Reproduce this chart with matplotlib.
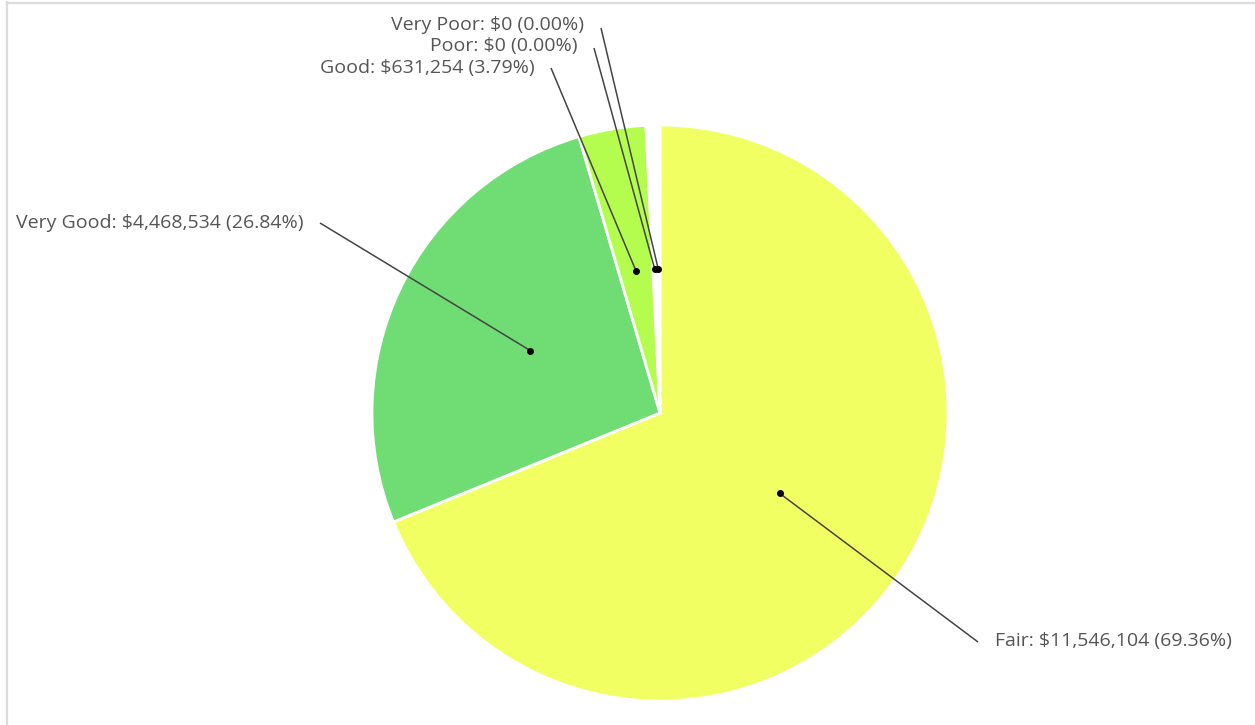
import matplotlib
matplotlib.use("Agg")
import matplotlib.pyplot as plt
from matplotlib.lines import Line2D
import numpy as np

# Condition categories in drawing order (clockwise from 12 o'clock)
categories = ["Fair", "Very Good", "Good", "Poor", "Very Poor"]
values = [11546104, 4468534, 631254, 0, 0]
colors = ["#F2FF63", "#70DC74", "#B4FD4E", "#FFFFFF", "#FFFFFF"]

# Label anchors (pixel coords, y measured from top) and alignment
label_pos = {
    "Fair": (995, 641, "left"),
    "Very Good": (304, 223, "right"),
    "Good": (535, 68, "right"),
    "Poor": (578, 46, "right"),
    "Very Poor": (584, 25, "right"),
}
line_start = {
    "Fair": (978, 642),
    "Very Good": (320, 223),
    "Good": (551, 68),
    "Poor": (594, 48),
    "Very Poor": (601, 28),
}

W, H = 1255, 725
CX, CY, R = 660, 413, 288
MIN_ZERO_ANGLE = 1.4  # degrees reserved for empty slices

plt.rcParams["font.family"] = ["Open Sans", "DejaVu Sans"]

fig = plt.figure(figsize=(W / 100, H / 100), dpi=100)
ax = fig.add_axes([0, 0, 1, 1])

vals = np.array(values, dtype=float)
total = vals.sum()
pcts = vals / total * 100
n_zero = int((vals == 0).sum())
angles = np.where(vals == 0, MIN_ZERO_ANGLE,
                  vals / total * (360 - n_zero * MIN_ZERO_ANGLE))

wedges, _ = ax.pie(angles, colors=colors, startangle=90, counterclock=False,
                   radius=R, center=(CX, H - CY),
                   wedgeprops=dict(edgecolor="white", linewidth=2.0))

ax.set_xlim(0, W)
ax.set_ylim(0, H)
ax.set_aspect("equal")
ax.axis("off")

# Leader lines and labels
start = 0.0
for name, val, pct, ang in zip(categories, values, pcts, angles):
    mid = np.deg2rad(start + ang / 2)
    start += ang
    dx = CX + 0.5 * R * np.sin(mid)
    dy = (H - CY) + 0.5 * R * np.cos(mid)
    lx, ly = line_start[name]
    ax.plot([lx, dx], [H - ly, dy], color="#444444", lw=1.1, zorder=5,
            solid_capstyle="butt")
    ax.plot(dx, dy, "o", color="black", ms=4, zorder=6)
    tx, ty, ha = label_pos[name]
    ax.text(tx, H - ty, f"{name}: ${val:,} ({pct:.2f}%)", ha=ha, va="center",
            fontsize=14, color="#555555", zorder=7)

# Light frame on the left and top edges
fig.add_artist(Line2D([7 / W, 7 / W], [0, 1 - 2 / H], transform=fig.transFigure,
                      color="#dcdcdc", lw=1.6))
fig.add_artist(Line2D([7 / W, 1], [1 - 3 / H, 1 - 3 / H], transform=fig.transFigure,
                      color="#dcdcdc", lw=1.6))

fig.savefig("out.png", dpi=100, facecolor="white")
